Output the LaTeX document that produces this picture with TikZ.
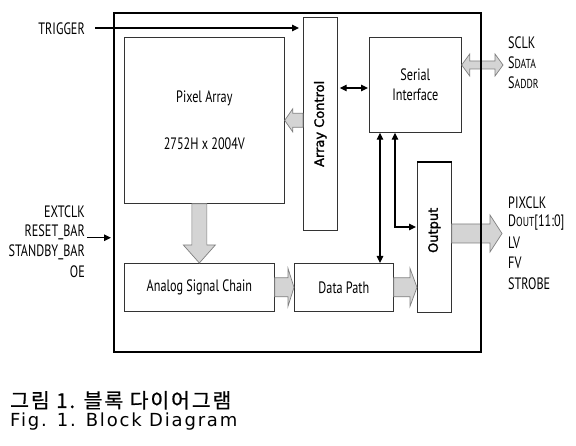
\documentclass[tikz,border=0pt]{standalone}
\usepackage{fontspec}
\setmainfont{PT Sans}[FakeStretch=0.74]
\newfontfamily\rotfont{DejaVu Sans}[FakeBold=1.6]
\newfontfamily\cjk{Noto Sans CJK KR}[LetterSpace=9,FakeBold=0.6]
\newfontfamily\capfont{DejaVu Sans}[LetterSpace=10]
\usetikzlibrary{arrows.meta,calc}

\newcommand\garrow[5]{% #1 tail, #2 tip, #3 head length, #4 half body, #5 half head
  \coordinate (gA) at #1; \coordinate (gB) at #2;
  \coordinate (gP) at ($(gB)!#3!(gA)$);
  \filldraw[garrowst] ($(gA)!#4!90:(gB)$) -- ($(gP)!#4!90:(gB)$) -- ($(gP)!#5!90:(gB)$)
    -- (gB) -- ($(gP)!#5!-90:(gB)$) -- ($(gP)!#4!-90:(gB)$) -- ($(gA)!#4!-90:(gB)$) -- cycle;}
\newcommand\dgarrow[5]{% double headed: #1 tip1, #2 tip2, #3 head length, #4 half body, #5 half head
  \coordinate (gA) at #1; \coordinate (gB) at #2;
  \coordinate (gP) at ($(gB)!#3!(gA)$); \coordinate (gQ) at ($(gA)!#3!(gB)$);
  \filldraw[garrowst] (gA) -- ($(gQ)!#5!-90:(gA)$) -- ($(gQ)!#4!-90:(gA)$) -- ($(gP)!#4!90:(gB)$)
    -- ($(gP)!#5!90:(gB)$) -- (gB) -- ($(gP)!#5!-90:(gB)$) -- ($(gP)!#4!-90:(gB)$)
    -- ($(gQ)!#4!90:(gA)$) -- ($(gQ)!#5!90:(gA)$) -- cycle;}

\begin{document}
\begin{tikzpicture}[x=1pt,y=-1pt,
  box/.style={draw=black!80, line width=0.7pt, fill=white, inner sep=0pt, anchor=north west,
    align=center, font=\fontsize{16.5}{20}\selectfont},
  garrowst/.style={fill=black!17, draw=black!50, line width=0.7pt},
  sig/.style={line width=1.1pt, -{Triangle[length=7pt,width=6.5pt]}},
  dsig/.style={line width=1.1pt, {Triangle[length=7pt,width=6.5pt]}-{Triangle[length=7pt,width=6.5pt]}},
  lbl/.style={font=\fontsize{16.5}{20}\selectfont, inner sep=0pt},
  rot/.style={rotate=90, font=\rotfont\fontsize{13}{15}\selectfont, inner sep=0pt},
]
\useasboundingbox (0,0) rectangle (576,446);
\fill[white] (0,0) rectangle (576,446);

% blocks
\node[box, minimum width=160pt, minimum height=166pt] (pix) at (124,37) {Pixel Array\\[27pt]2752H x 2004V};
\node[box, minimum width=34pt, minimum height=213pt] (ac) at (303,17) {};
\node[rot] (actext) at (ac.center) {Array Control};
\node[box, minimum width=92pt, minimum height=95pt] (ser) at (369,37) {Serial\\Interface};
\node[box, minimum width=34pt, minimum height=150pt] (out) at (417,162) {};
\node[rot] (outtext) at ([yshift=7pt]out.center) {Output};
\draw[line width=2pt] (out.north west) -- (out.north east);
\node[box, minimum width=150pt, minimum height=48pt] (asc) at (124,263) {Analog Signal Chain};
\node[box, minimum width=99pt, minimum height=48pt] (dp) at (294,263) {Data Path};

% labels
\node[lbl, anchor=east] (trig) at (85,29) {TRIGGER};
\node[lbl, anchor=east] (extclk) at (85,212) {EXTCLK};
\node[lbl, anchor=east] (reset) at (85,232) {RESET\_BAR};
\node[lbl, anchor=east] (stby) at (85,252) {STANDBY\_BAR};
\node[lbl, anchor=east] (oe) at (85,272) {OE};
\node[lbl, anchor=west] (sclk) at (508,43) {SCLK};
\node[lbl, anchor=west] (sdata) at (508,63) {S{\fontsize{13}{15}\selectfont DATA}};
\node[lbl, anchor=west] (saddr) at (508,83) {S{\fontsize{13}{15}\selectfont ADDR}};
\node[lbl, anchor=west] (pixclk) at (508,203) {PIXCLK};
\node[lbl, anchor=west] (dout) at (508,223) {D{\fontsize{13}{15}\selectfont OUT}[11:0]};
\node[lbl, anchor=west] (lv) at (508,243) {LV};
\node[lbl, anchor=west] (fv) at (508,263) {FV};
\node[lbl, anchor=west] (strobe) at (508,284) {STROBE};

% gray block arrows
\garrow{(ac.west |- pix.east)}{(pix.east)}{8pt}{7pt}{11.5pt}
\garrow{(asc.north |- pix.south)}{(asc.north)}{18pt}{7.5pt}{16pt}
\garrow{(asc.east)}{(dp.west)}{6pt}{9.5pt}{19pt}
\garrow{(dp.east)}{(out.west |- dp.east)}{7pt}{9.5pt}{19pt}
\coordinate (doutend) at (502,233.5);
\garrow{(out.east |- doutend)}{(doutend)}{12pt}{9.5pt}{18.5pt}
\coordinate (sclkend) at (503,65);
\dgarrow{(ser.east |- sclkend)}{(sclkend)}{8pt}{4pt}{11pt}

% outer frame
\node[draw, line width=2pt, minimum width=367pt, minimum height=339pt, anchor=north west, inner sep=0pt] (frame) at (113,12) {};

% black signal arrows
\coordinate (tstart) at ([xshift=10pt,yshift=1pt]trig.east);
\draw[sig, shorten >=4pt] (tstart) -- (ac.west |- tstart);
\coordinate (rin) at ([xshift=2pt,yshift=2pt]reset.south east);
\draw[sig, shorten >=2pt] (rin) -- (frame.west |- rin);
\coordinate (c88) at (0,88);
\draw[dsig, shorten <=2pt, shorten >=1pt] (ac.east |- c88) -- (ser.west |- c88);
\coordinate (v1) at (380,0);
\draw[dsig] (ser.south -| v1) -- (dp.north -| v1);
\coordinate (v2) at (395,227);
\draw[dsig, shorten >=1pt] (ser.south -| v2) -- (v2) -- (out.west |- v2);

% caption
\node[anchor=base west, inner sep=0pt, font=\cjk\fontsize{20.5}{24}\selectfont] (cap1) at (10,408) {그림 1. 블록 다이어그램};
\node[anchor=base west, inner sep=0pt, font=\capfont\fontsize{18}{21}\selectfont] (cap2) at (10,427) {Fig. 1. Block Diagram};
\end{tikzpicture}
\end{document}
